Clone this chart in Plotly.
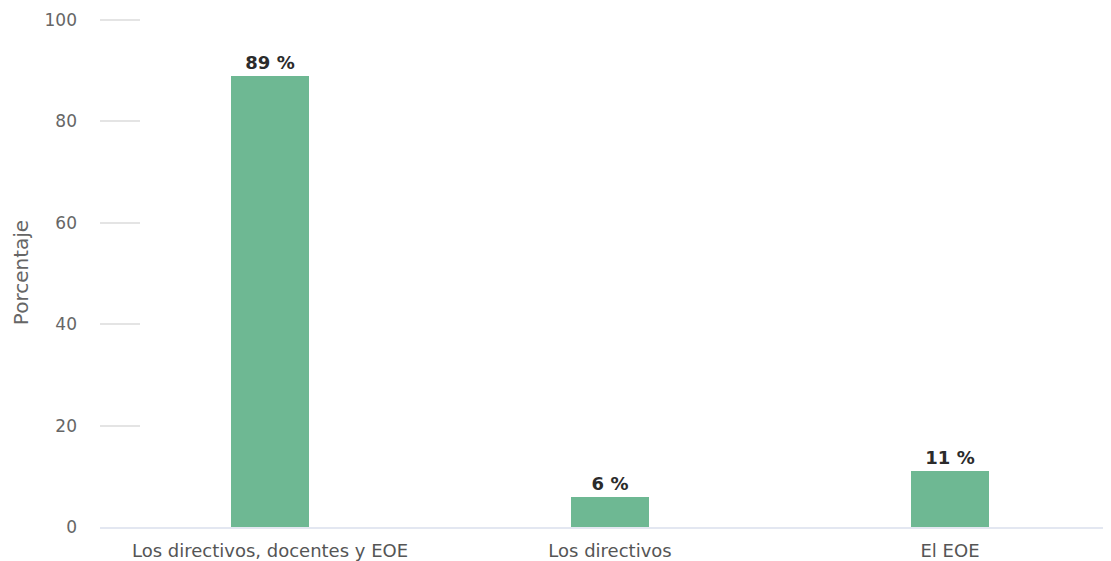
import plotly.graph_objects as go

categories = ["Los directivos, docentes y EOE", "Los directivos", "El EOE"]
values = [89, 6, 11]
labels = ["89 %", "6 %", "11 %"]
y_ticks = [0, 20, 40, 60, 80, 100]

FONT = "DejaVu Sans"
# the page body has an 8px default margin; compensate so the plot sits where the reference has it
OFF = 8

fig = go.Figure(
    go.Bar(
        x=categories,
        y=values,
        width=78 / 340,
        marker=dict(color="#6eb893", line=dict(width=0)),
        text=labels,
        textposition="outside",
        cliponaxis=False,
        textfont=dict(family=FONT, size=18, color="#2b2b2b", weight="bold"),
    )
)

fig.update_layout(
    width=1111 - OFF,
    height=561 - OFF,
    margin=dict(l=100 - OFF, r=0, t=18 - OFF, b=34),
    paper_bgcolor="white",
    plot_bgcolor="white",
    showlegend=False,
    font=dict(family=FONT, size=17, color="#666666"),
    bargap=0,
)

fig.update_xaxes(
    range=[-0.5, -0.5 + 1011 / 340],
    showgrid=False,
    showline=True,
    linecolor="#e3e7f1",
    linewidth=2,
    ticks="",
    tickfont=dict(family=FONT, size=18, color="#555555"),
    ticklabelstandoff=6,
    zeroline=False,
)

fig.update_yaxes(
    range=[0, 100.4],
    tickvals=y_ticks,
    showgrid=False,
    zeroline=False,
    showline=False,
    ticks="inside",
    ticklen=40,
    tickwidth=1.5,
    tickcolor="#e4e4e4",
    tickfont=dict(family=FONT, size=17, color="#666666"),
    ticklabelstandoff=22,
    title=dict(text="Porcentaje", font=dict(family=FONT, size=20, color="#666666"), standoff=10),
)

fig.write_html("out.html")
